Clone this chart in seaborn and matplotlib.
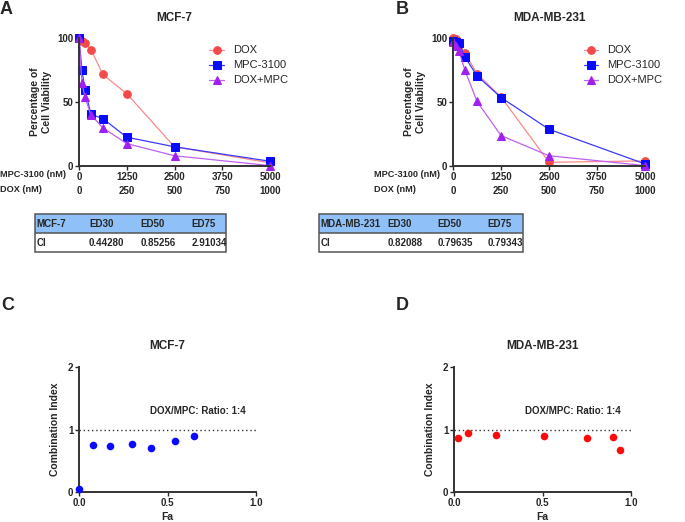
import matplotlib
matplotlib.use("Agg")
import matplotlib.pyplot as plt
from matplotlib.patches import Rectangle
import numpy as np
import pandas as pd
import seaborn as sns

# dose-response data (x in MPC-3100 nM; DOX nM is 1/5 of it)
conc_mpc = [0, 78, 156, 312.5, 625, 1250, 2500, 5000]
mpc_ticks = [0, 1250, 2500, 3750, 5000]
dox_tick_labels = ["0", "250", "500", "750", "1000"]

mcf7_dox = [100, 98, 96, 91, 71.5, 56.5, 15, 2.5]
mcf7_mpc = [100, 74.7, 59.5, 40.5, 37, 22.5, 15, 3.7]
mcf7_combo = [100, 64.7, 53.8, 40, 29.8, 17.5, 8, 0.3]

mda_dox = [100, 99.5, 94.8, 88.3, 72, 54, 2.9, 4]
mda_mpc = [97.4, 96.9, 96, 85, 70.5, 53.5, 28.7, 1.6]
mda_combo = [97, 94, 89.5, 74.7, 50.4, 23.8, 8, 0.3]

# combination index tables
table_cols = ["ED30", "ED50", "ED75"]
mcf7_ci = ["0.44280", "0.85256", "2.91034"]
mda_ci = ["0.82088", "0.79635", "0.79343"]

# Fa-CI plots
mcf7_fa = [0.0, 0.08, 0.175, 0.30, 0.405, 0.54, 0.65]
mcf7_cival = [0.05, 0.745, 0.74, 0.77, 0.70, 0.81, 0.89]
mda_fa = [0.02, 0.08, 0.24, 0.51, 0.75, 0.90, 0.94]
mda_cival = [0.87, 0.94, 0.92, 0.90, 0.87, 0.88, 0.68]

sns.set_style("ticks")
plt.rcParams["font.family"] = ["Liberation Sans", "DejaVu Sans"]
plt.rcParams["font.weight"] = "bold"
plt.rcParams["axes.titleweight"] = "bold"
plt.rcParams["axes.labelweight"] = "bold"

W, H = 685, 522
fig = plt.figure(figsize=(W / 100, H / 100), dpi=100)


def px_axes(x0, y0, x1, y1):
    return fig.add_axes([x0 / W, 1 - y1 / H, (x1 - x0) / W, (y1 - y0) / H])


series_style = [
    ("DOX", "#f24a4a", "#f88a8a", "o", 5.5),
    ("MPC-3100", "#0a0aff", "#3a3aff", "s", 5.5),
    ("DOX+MPC", "#a020f0", "#c060f0", "^", 5.5),
]


def dose_panel(ax, values, title, letter, lx):
    for (name, mc, lc, mk, ms), yv in zip(series_style, values):
        df = pd.DataFrame({"x": conc_mpc, "y": yv})
        sns.lineplot(data=df, x="x", y="y", ax=ax, color=lc, lw=0.9,
                     marker=mk, markersize=ms, markerfacecolor=mc,
                     markeredgecolor=mc, label=name, clip_on=False)
    ax.set_xlim(0, 5000)
    ax.set_ylim(0, 100)
    ax.set_yticks([0, 50, 100])
    ax.set_xticks(mpc_ticks)
    ax.set_xticklabels([f"{m}\n{d}" for m, d in zip(mpc_ticks, dox_tick_labels)],
                       linespacing=1.5)
    ax.tick_params(labelsize=7, width=1, length=3, pad=1)
    for s in ["left", "bottom"]:
        ax.spines[s].set_linewidth(1.4)
        ax.spines[s].set_color("#333333")
    sns.despine(ax=ax)
    ax.set_xlabel("")
    ax.set_ylabel("Percentage of\nCell Viability", fontsize=7.5, labelpad=4)
    ax.set_title(title, fontsize=8.5, pad=12)
    ax.legend(loc="upper left", bbox_to_anchor=(0.63, 1.02), frameon=False,
              handlelength=1.3, labelspacing=0.45,
              prop={"weight": "normal", "size": 8})
    bb = ax.get_position()
    fig.text(lx / W, 1 - 175 / H, "MPC-3100 (nM)", fontsize=6.6, va="center")
    fig.text(lx / W, 1 - 189 / H, "DOX (nM)", fontsize=6.6, va="center")
    fig.text((bb.x0 * W - letter[1]) / W, 1 - 9 / H, letter[0], fontsize=13,
             va="center")


def ci_table(x0, x1, widths, first, values):
    ax = px_axes(x0, 214, x1, 252)
    ax.set_xlim(0, sum(widths))
    ax.set_ylim(0, 2)
    ax.axis("off")
    ax.add_patch(Rectangle((0, 1), sum(widths), 1, facecolor="#8fc0f8",
                           edgecolor="none"))
    ax.add_patch(Rectangle((0, 0), sum(widths), 2, facecolor="none",
                           edgecolor="#555555", lw=1.1, clip_on=False))
    ax.plot([0, sum(widths)], [1, 1], color="#555555", lw=1.1)
    starts = np.cumsum([0] + widths[:-1])
    for xs, head, val in zip(starts, [first] + table_cols, ["CI"] + values):
        ax.text(xs + 1.5, 1.5, head, fontsize=7, va="center")
        ax.text(xs + 1.5, 0.5, val, fontsize=7, va="center")


def ci_panel(ax, fa, ci, color, title, letter):
    df = pd.DataFrame({"Fa": fa, "CI": ci})
    sns.scatterplot(data=df, x="Fa", y="CI", ax=ax, color=color, s=30,
                    edgecolor=color, linewidth=0, clip_on=False, zorder=3)
    ax.axhline(1, color="#333333", ls=(0, (1, 2)), lw=1, xmax=1)
    ax.set_xlim(0, 1)
    ax.set_ylim(0, 2)
    ax.set_xticks([0, 0.5, 1.0])
    ax.set_xticklabels(["0.0", "0.5", "1.0"])
    ax.set_yticks([0, 1, 2])
    ax.tick_params(labelsize=7, width=1, length=3, pad=1)
    for s in ["left", "bottom"]:
        ax.spines[s].set_linewidth(1.4)
        ax.spines[s].set_color("#333333")
    sns.despine(ax=ax)
    ax.set_xlabel("Fa", fontsize=7.5, labelpad=3)
    ax.set_ylabel("Combination Index", fontsize=7.5, labelpad=6)
    ax.set_title(title, fontsize=8.5, pad=13)
    ax.text(0.67, 1.29, "DOX/MPC: Ratio: 1:4", fontsize=7, ha="center",
            va="center")
    fig.text(letter[1] / W, 1 - 305 / H, letter[0], fontsize=13, va="center")


axA = px_axes(79, 38, 270, 166)
dose_panel(axA, [mcf7_dox, mcf7_mpc, mcf7_combo], "MCF-7", ("A", 79), 0)
axB = px_axes(453, 38, 645, 166)
dose_panel(axB, [mda_dox, mda_mpc, mda_combo], "MDA-MB-231", ("B", 57), 374)

ci_table(35, 226, [53, 52, 52, 36], "MCF-7", mcf7_ci)
ci_table(319, 523, [68, 50, 51, 37], "MDA-MB-231", mda_ci)

axC = px_axes(79, 367, 256, 492)
ci_panel(axC, mcf7_fa, mcf7_cival, "#0a0aff", "MCF-7", ("C", 1))
axD = px_axes(454, 367, 631, 492)
ci_panel(axD, mda_fa, mda_cival, "#ff0a0a", "MDA-MB-231", ("D", 396))

fig.savefig("out.png", dpi=100)
